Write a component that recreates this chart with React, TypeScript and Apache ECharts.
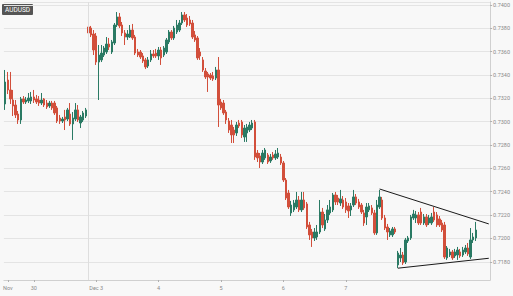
import React, { useEffect, useRef } from 'react';
import * as echarts from 'echarts';

const symbolName = 'AUDUSD';

const opens = [
  0.73151, 0.73356, 0.73271, 0.73185, 0.73142, 0.73065, 0.73014, 0.73194, 0.73168, 0.73177,
  0.73177, 0.73211, 0.73194, 0.73185, 0.73159, 0.73194, 0.73159, 0.73134, 0.73159, 0.73159,
  0.73117, 0.73031, 0.73005, 0.73040, 0.73022, 0.73065, 0.72980, 0.73022, 0.73100, 0.72988,
  0.73014, 0.73048, 0.73810, 0.73801, 0.73750, 0.73733, 0.73510, 0.73528, 0.73570, 0.73596,
  0.73664, 0.73596, 0.73673, 0.73827, 0.73896, 0.73827, 0.73759, 0.73724, 0.73724, 0.73784,
  0.73724, 0.73596, 0.73596, 0.73562, 0.73528, 0.73476, 0.73528, 0.73579, 0.73587, 0.73562,
  0.73613, 0.73570, 0.73596, 0.73682, 0.73767, 0.73716, 0.73767, 0.73784, 0.73844, 0.73913,
  0.73887, 0.73870, 0.73844, 0.73742, 0.73716, 0.73596, 0.73528, 0.73433, 0.73408, 0.73399,
  0.73391, 0.73373, 0.73442, 0.73168, 0.73159, 0.73082, 0.73005, 0.72971, 0.72928, 0.72903,
  0.72988, 0.72997, 0.72868, 0.72903, 0.72928, 0.72945, 0.72997, 0.72731, 0.72706, 0.72654,
  0.72689, 0.72714, 0.72663, 0.72714, 0.72689, 0.72697, 0.72697, 0.72646, 0.72500, 0.72389,
  0.72218, 0.72244, 0.72269, 0.72329, 0.72244, 0.72329, 0.72295, 0.72115, 0.72055, 0.72004,
  0.72012, 0.72055, 0.72226, 0.72081, 0.72158, 0.72218, 0.72244, 0.72372, 0.72346, 0.72303,
  0.72329, 0.72312, 0.72278, 0.72244, 0.72286, 0.72355, 0.72312, 0.72286, 0.72218, 0.72184,
  0.72244, 0.72261, 0.72218, 0.72047, 0.72269, 0.72329, 0.72175, 0.72098, 0.72030, 0.72030,
  0.72081, 0.71773, 0.71833, 0.71858, 0.71798, 0.71978, 0.72004, 0.72175, 0.72175, 0.72201,
  0.72226, 0.72132, 0.72184, 0.72132, 0.72132, 0.72226, 0.72201, 0.72167, 0.72132, 0.72115,
  0.71833, 0.71858, 0.71884, 0.71850, 0.71858, 0.71884, 0.71858, 0.71884, 0.71918, 0.71841,
  0.71987, 0.72004,
];

const closes = [
  0.73339, 0.73271, 0.73194, 0.73134, 0.73057, 0.73014, 0.73194, 0.73168, 0.73185, 0.73202,
  0.73211, 0.73185, 0.73168, 0.73159, 0.73185, 0.73142, 0.73125, 0.73159, 0.73117, 0.73074,
  0.73005, 0.73005, 0.73022, 0.73014, 0.73100, 0.72980, 0.73031, 0.73100, 0.73014, 0.73040,
  0.73074, 0.73100, 0.73759, 0.73742, 0.73613, 0.73510, 0.73570, 0.73587, 0.73630, 0.73664,
  0.73639, 0.73682, 0.73827, 0.73896, 0.73819, 0.73759, 0.73724, 0.73750, 0.73784, 0.73716,
  0.73587, 0.73570, 0.73553, 0.73519, 0.73468, 0.73528, 0.73579, 0.73562, 0.73562, 0.73613,
  0.73545, 0.73630, 0.73699, 0.73767, 0.73716, 0.73801, 0.73827, 0.73844, 0.73913, 0.73870,
  0.73827, 0.73836, 0.73724, 0.73699, 0.73545, 0.73562, 0.73442, 0.73382, 0.73382, 0.73373,
  0.73365, 0.73442, 0.73142, 0.73117, 0.73074, 0.73014, 0.72928, 0.72886, 0.72886, 0.72971,
  0.72963, 0.72886, 0.72945, 0.72954, 0.72971, 0.72988, 0.72697, 0.72689, 0.72654, 0.72731,
  0.72757, 0.72654, 0.72697, 0.72689, 0.72723, 0.72731, 0.72646, 0.72500, 0.72346, 0.72269,
  0.72286, 0.72303, 0.72329, 0.72244, 0.72329, 0.72261, 0.72098, 0.72030, 0.72004, 0.72055,
  0.72055, 0.72226, 0.72115, 0.72158, 0.72244, 0.72269, 0.72372, 0.72312, 0.72312, 0.72338,
  0.72269, 0.72244, 0.72235, 0.72278, 0.72355, 0.72303, 0.72269, 0.72226, 0.72132, 0.72269,
  0.72278, 0.72218, 0.72047, 0.72286, 0.72355, 0.72175, 0.72089, 0.72055, 0.72064, 0.72081,
  0.72055, 0.71875, 0.71858, 0.71790, 0.71987, 0.72004, 0.72184, 0.72209, 0.72201, 0.72132,
  0.72132, 0.72184, 0.72115, 0.72175, 0.72184, 0.72158, 0.72115, 0.72115, 0.72072, 0.71841,
  0.71918, 0.71884, 0.71833, 0.71884, 0.71901, 0.71850, 0.71901, 0.71918, 0.71867, 0.71987,
  0.72012, 0.72072,
];

const highs = [
  0.73442, 0.73425, 0.73425, 0.73271, 0.73185, 0.73091, 0.73211, 0.73219, 0.73211, 0.73245,
  0.73254, 0.73271, 0.73228, 0.73219, 0.73245, 0.73202, 0.73185, 0.73177, 0.73177, 0.73177,
  0.73134, 0.73057, 0.73040, 0.73100, 0.73117, 0.73159, 0.73082, 0.73159, 0.73142, 0.73057,
  0.73091, 0.73117, 0.73836, 0.73819, 0.73784, 0.73759, 0.73656, 0.73656, 0.73647, 0.73724,
  0.73716, 0.73699, 0.73844, 0.73938, 0.73930, 0.73853, 0.73784, 0.73784, 0.73827, 0.73836,
  0.73742, 0.73622, 0.73613, 0.73587, 0.73545, 0.73553, 0.73613, 0.73613, 0.73622, 0.73639,
  0.73639, 0.73647, 0.73716, 0.73784, 0.73784, 0.73819, 0.73870, 0.73870, 0.73938, 0.73938,
  0.73921, 0.73904, 0.73870, 0.73776, 0.73733, 0.73630, 0.73553, 0.73459, 0.73425, 0.73416,
  0.73425, 0.73468, 0.73553, 0.73194, 0.73185, 0.73100, 0.73031, 0.73014, 0.72954, 0.72997,
  0.73014, 0.73014, 0.72971, 0.72980, 0.72997, 0.73014, 0.73014, 0.72757, 0.72731, 0.72757,
  0.72774, 0.72731, 0.72723, 0.72740, 0.72757, 0.72774, 0.72723, 0.72663, 0.72517, 0.72415,
  0.72321, 0.72329, 0.72398, 0.72363, 0.72398, 0.72398, 0.72312, 0.72141, 0.72081, 0.72089,
  0.72115, 0.72329, 0.72261, 0.72209, 0.72286, 0.72329, 0.72389, 0.72398, 0.72372, 0.72415,
  0.72363, 0.72346, 0.72303, 0.72303, 0.72415, 0.72380, 0.72338, 0.72303, 0.72244, 0.72303,
  0.72303, 0.72286, 0.72244, 0.72329, 0.72415, 0.72355, 0.72201, 0.72124, 0.72089, 0.72098,
  0.72098, 0.71893, 0.71918, 0.71884, 0.72004, 0.72021, 0.72201, 0.72244, 0.72235, 0.72226,
  0.72261, 0.72209, 0.72209, 0.72201, 0.72218, 0.72269, 0.72226, 0.72192, 0.72158, 0.72141,
  0.71935, 0.71910, 0.71901, 0.71910, 0.71927, 0.71910, 0.71927, 0.71944, 0.71961, 0.72089,
  0.72047, 0.72141,
];

const lows = [
  0.73100, 0.73236, 0.73151, 0.73048, 0.73031, 0.72980, 0.72980, 0.73151, 0.73151, 0.73159,
  0.73151, 0.73159, 0.73151, 0.73134, 0.73142, 0.73125, 0.73108, 0.73117, 0.73100, 0.73057,
  0.72988, 0.72980, 0.72988, 0.72928, 0.73005, 0.72963, 0.72843, 0.73005, 0.72997, 0.72945,
  0.72997, 0.73031, 0.73742, 0.73724, 0.73570, 0.73485, 0.73185, 0.73510, 0.73553, 0.73579,
  0.73613, 0.73579, 0.73656, 0.73810, 0.73801, 0.73733, 0.73656, 0.73699, 0.73716, 0.73699,
  0.73570, 0.73553, 0.73536, 0.73502, 0.73450, 0.73459, 0.73510, 0.73545, 0.73545, 0.73528,
  0.73485, 0.73553, 0.73579, 0.73664, 0.73699, 0.73699, 0.73750, 0.73767, 0.73827, 0.73853,
  0.73810, 0.73819, 0.73707, 0.73682, 0.73528, 0.73528, 0.73425, 0.73365, 0.73254, 0.73356,
  0.73348, 0.73356, 0.72954, 0.73100, 0.73057, 0.72980, 0.72903, 0.72817, 0.72817, 0.72877,
  0.72945, 0.72860, 0.72826, 0.72826, 0.72911, 0.72928, 0.72672, 0.72654, 0.72603, 0.72637,
  0.72672, 0.72637, 0.72646, 0.72672, 0.72672, 0.72680, 0.72629, 0.72483, 0.72329, 0.72252,
  0.72192, 0.72226, 0.72252, 0.72226, 0.72226, 0.72244, 0.72081, 0.71987, 0.71927, 0.71978,
  0.71987, 0.72038, 0.72089, 0.72064, 0.72132, 0.72201, 0.72226, 0.72286, 0.72286, 0.72278,
  0.72252, 0.72218, 0.72175, 0.72192, 0.72269, 0.72286, 0.72252, 0.72209, 0.72107, 0.72115,
  0.72226, 0.72201, 0.72030, 0.72030, 0.72252, 0.72158, 0.72072, 0.71987, 0.72012, 0.72012,
  0.72038, 0.71747, 0.71798, 0.71773, 0.71781, 0.71961, 0.71987, 0.72158, 0.72132, 0.72115,
  0.72115, 0.72115, 0.72098, 0.72115, 0.72115, 0.72141, 0.72098, 0.72098, 0.72055, 0.71824,
  0.71816, 0.71841, 0.71816, 0.71833, 0.71816, 0.71833, 0.71841, 0.71867, 0.71850, 0.71824,
  0.71961, 0.71978,
];

// hourly slots on the category axis (last few are empty space on the right)
const slotCount = 187;
// x-axis tick labels and the slot they sit on
const tickIndex = [1, 11, 35, 59, 83, 107, 131];
const tickText = ['Nov', '30', 'Dec 3', '4', '5', '6', '7'];
// weekend session break
const sessionBreak = 32;
// triangle trend lines [slot, price]
const upperLine = [[144, 0.72423], [186, 0.72124]];
const lowerLine = [[151, 0.71745], [186, 0.7183]];
// price axis range
const priceMin = 0.71644;
const priceMax = 0.74024;
const priceStep = 0.002;

export default function App() {
  const ref = useRef<HTMLDivElement>(null);

  useEffect(() => {
    if (!ref.current) return;
    const chart = echarts.init(ref.current, undefined, { renderer: 'svg' });
    const categories = Array.from({ length: slotCount }, (_, i) => String(i));
    const candles = opens.map((o, i) => [o, closes[i], lows[i], highs[i]]);
    const up = '#2a7a64';
    const down = '#d24f3b';
    const labelFont = { fontFamily: 'Roboto, "DejaVu Sans", sans-serif', fontSize: 5.5, color: '#8a8a8a' };

    chart.setOption({
      animation: false,
      backgroundColor: '#f8f8f8',
      grid: { left: 0, right: 22, top: 2, bottom: 16, containLabel: false },
      xAxis: {
        type: 'category',
        data: categories,
        boundaryGap: true,
        axisLine: { show: true, lineStyle: { color: '#d0d0d0', width: 1 } },
        axisTick: {
          show: true,
          alignWithLabel: true,
          length: 2,
          interval: (i: number) => tickIndex.includes(i),
          lineStyle: { color: '#b0b0b0' },
        },
        axisLabel: {
          ...labelFont,
          margin: 5,
          interval: (i: number) => tickIndex.includes(i),
          formatter: (_v: string, i: number) => {
            const k = tickIndex.indexOf(i);
            return k >= 0 ? tickText[k] : '';
          },
        },
        splitLine: { show: false },
      },
      yAxis: {
        type: 'value',
        position: 'right',
        min: priceMin,
        max: priceMax,
        splitNumber: 12,
        minInterval: priceStep,
        maxInterval: priceStep,
        axisLine: { show: true, lineStyle: { color: '#d0d0d0', width: 1 } },
        axisTick: { show: true, length: 2, lineStyle: { color: '#b0b0b0' } },
        axisLabel: {
          ...labelFont,
          margin: 3,
          showMinLabel: false,
          showMaxLabel: false,
          formatter: (v: number) => v.toFixed(4),
        },
        splitLine: { show: true, lineStyle: { color: '#e4e4e4', width: 1 } },
      },
      graphic: [
        {
          type: 'group',
          left: 2,
          top: 4,
          children: [
            { type: 'rect', shape: { x: 0, y: 0, width: 31, height: 11, r: 1 }, style: { fill: '#555555' } },
            {
              type: 'text',
              x: 15.5,
              y: 5.8,
              style: {
                text: symbolName,
                fill: '#ffffff',
                fontSize: 6.5,
                fontFamily: 'Roboto, "DejaVu Sans", sans-serif',
                align: 'center',
                verticalAlign: 'middle',
              },
            },
          ],
        },
      ],
      series: [
        {
          type: 'candlestick',
          data: candles,
          barWidth: 2,
          itemStyle: {
            color: up,
            color0: down,
            borderColor: up,
            borderColor0: down,
            borderWidth: 1,
          },
          markLine: {
            silent: true,
            symbol: ['none', 'none'],
            label: { show: false },
            lineStyle: { color: '#dedede', type: 'solid', width: 1 },
            data: [{ xAxis: sessionBreak }],
          },
        },
        {
          type: 'line',
          data: upperLine,
          symbol: 'none',
          lineStyle: { color: '#1a1a1a', width: 1 },
          silent: true,
        },
        {
          type: 'line',
          data: lowerLine,
          symbol: 'none',
          lineStyle: { color: '#1a1a1a', width: 1 },
          silent: true,
        },
      ],
    });

    return () => chart.dispose();
  }, []);

  return (
    <div
      ref={ref}
      style={{ position: 'fixed', left: 0, top: 0, width: 513, height: 296 }}
    />
  );
}
